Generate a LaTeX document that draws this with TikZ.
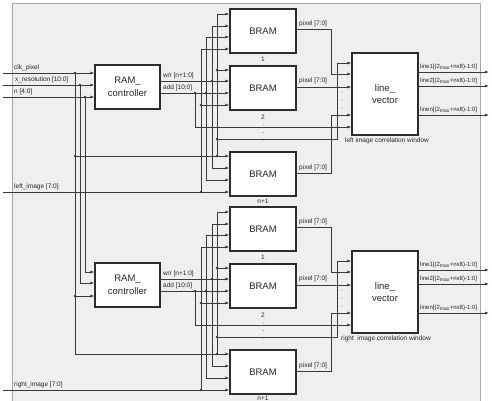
\documentclass[tikz,border=0pt]{standalone}
\usepackage{fontspec}
\setmainfont{Liberation Sans}
\usetikzlibrary{arrows.meta}
\definecolor{bg}{HTML}{EFEFEF}
\definecolor{frame}{HTML}{A8A8A8}
\definecolor{ln}{HTML}{3A3A3A}
\definecolor{bx}{HTML}{2C2C2C}
\tikzset{
  wire/.style={draw=ln, line width=0.85pt},
  arr/.style={wire, -{Latex[length=4pt,width=3pt]}},
  arrb/.style={wire, {Latex[length=4pt,width=3pt]}-{Latex[length=4pt,width=3pt]}},
  blk/.style={draw=bx, line width=1.2pt, fill=white, rectangle, inner sep=0pt,
              align=center, text=black!85, font=\fontsize{9.5}{12.5}\selectfont},
  bram/.style={blk, minimum width=66pt, minimum height=44pt, font=\fontsize{9.5}{12}\selectfont},
  lbl/.style={font=\fontsize{6.5}{7}\selectfont, text=black!85, inner sep=0pt},
  olbl/.style={font=\fontsize{6}{7}\selectfont, text=black!85, inner sep=0pt, anchor=west},
  jdot/.style={circle, fill=ln, inner sep=0pt, minimum size=2.8pt},
  tdot/.style={circle, fill=black!60, inner sep=0pt, minimum size=1pt}
}
\begin{document}
\begin{tikzpicture}[x=1pt,y=-1pt]
\useasboundingbox (0,0) rectangle (492,401);
\fill[bg] (12,3) rectangle (480,401);
\draw[frame, line width=0.8pt] (12,401) -- (12,3) -- (480,3) -- (480,401);

\foreach \s/\o/\ny in {a/0/201,b/198/398.2}{
  % blocks
  \node[blk, minimum width=65pt, minimum height=44pt] (ctrl\s) at (127.5,87+\o) {RAM\_\\controller};
  \node[bram] (b1\s) at (263,31+\o) {BRAM};
  \node[bram] (b2\s) at (263,88+\o) {BRAM};
  \node[bram] (bn\s) at (263,174+\o) {BRAM};
  \node[blk, minimum width=66pt, minimum height=82pt, font=\fontsize{9.5}{11.5}\selectfont] (lv\s) at (385,94+\o) {line\_\\vector};
  \node[lbl] (l1\s) at (263,59+\o) {1};
  \node[lbl] (l2\s) at (263,117+\o) {2};
  \node[lbl] (ln\s) at (263,\ny) {n+1};
  \node[tdot] (d1\s) at (263,125+\o) {};
  \node[tdot] (d2\s) at (263,132.5+\o) {};
  \node[tdot] (d3\s) at (263,140+\o) {};
  \node[tdot] (e1\s) at (342,92+\o) {};
  \node[tdot] (e2\s) at (342,100+\o) {};
  \node[tdot] (e3\s) at (342,108+\o) {};

  % controller outputs
  \node[jdot] (wr\s) at (212,81+\o) {};
  \node[jdot] (ad\s) at (206,93+\o) {};
  \node[jdot] (ax\s) at (195,93+\o) {};
  \draw[arr] (ctrl\s.east |- wr\s) -- (b2\s.west |- wr\s);
  \draw[arr] (ctrl\s.east |- ad\s) -- (b2\s.west |- ad\s);
  \node[lbl, anchor=west] (wrl\s) at (163,76+\o) {w/r [n+1:0]};
  \node[lbl, anchor=west] (adl\s) at (163,88+\o) {add [10:0]};

  % clock bus
  \coordinate (ct\s) at (217,14+\o);
  \node[jdot] (ck2\s) at (217,70+\o) {};
  \node[jdot] (ck3\s) at (217,139+\o) {};
  \node[jdot] (ck4\s) at (217,156+\o) {};
  \coordinate (ckv\s) at (337,63+\o);
  \draw[arr] (ck4\s.center) |- (b1\s.west |- ct\s);
  \draw[arr] (ck2\s.center) -- (b2\s.west |- ck2\s);
  \draw[arr] (ck3\s.center) -| (ckv\s) -- (lv\s.west |- ckv\s);

  % w/r bus
  \coordinate (wt\s) at (212,26+\o);
  \coordinate (wb\s) at (212,168+\o);
  \draw[arrb] (b1\s.west |- wt\s) -| (wb\s) -- (bn\s.west |- wb\s);

  % add bus
  \coordinate (at\s) at (206,37+\o);
  \coordinate (ab\s) at (206,180+\o);
  \draw[arrb] (b1\s.west |- at\s) -| (ab\s) -- (bn\s.west |- ab\s);
  \coordinate (ay\s) at (195,127+\o);
  \draw[arr] (ax\s.center) -- (ay\s) -- (lv\s.west |- ay\s);

  % data bus
  \coordinate (dt\s) at (201,49+\o);
  \node[jdot] (dm\s) at (201,105+\o) {};
  \node[jdot] (db\s) at (201,192+\o) {};
  \draw[arr] (db\s.center) |- (b1\s.west |- dt\s);
  \draw[arr] (dm\s.center) -- (b2\s.west |- dm\s);

  % pixel outputs
  \coordinate (p1\s) at (331,29+\o);
  \coordinate (q1\s) at (331,74+\o);
  \draw[arr] (b1\s.east |- p1\s) -- (p1\s) -- (q1\s) -- (lv\s.west |- q1\s);
  \coordinate (p2\s) at (331,87+\o);
  \draw[arr] (b2\s.east |- p2\s) -- (lv\s.west |- p2\s);
  \coordinate (pn\s) at (331,173+\o);
  \coordinate (qn\s) at (331,115+\o);
  \draw[arr] (bn\s.east |- pn\s) -- (pn\s) -- (qn\s) -- (lv\s.west |- qn\s);
  \node[lbl, anchor=west] (px1\s) at (299,24+\o) {pixel [7:0]};
  \node[lbl, anchor=west] (px2\s) at (299,81+\o) {pixel [7:0]};
  \node[lbl, anchor=west] (pxn\s) at (299,168+\o) {pixel [7:0]};

  % line_vector outputs
  \coordinate (o1\s) at (489,72+\o);
  \coordinate (o2\s) at (489,86+\o);
  \coordinate (on\s) at (489,115+\o);
  \draw[arr] (lv\s.east |- o1\s) -- (o1\s);
  \draw[arr] (lv\s.east |- o2\s) -- (o2\s);
  \draw[arr] (lv\s.east |- on\s) -- (on\s);
  \node[olbl] (ol1\s) at (420,66.5+\o) {line1[(2\textsubscript{max}+nx8)-1:0]};
  \node[olbl] (ol2\s) at (420,80.5+\o) {line2[(2\textsubscript{max}+nx8)-1:0]};
  \node[olbl] (oln\s) at (420,109.5+\o) {linen[(2\textsubscript{max}+nx8)-1:0]};
}
\node[lbl] (capa) at (387,141) {left image correlation window};
\node[lbl] (capb) at (386,339) {right\ \ image correlation window};

% left inputs
\coordinate (ic) at (3,73);
\coordinate (ix) at (3,85);
\coordinate (in) at (3,97);
\node[jdot] (jc) at (75,73) {};
\node[jdot] (jx) at (80,85) {};
\node[jdot] (jn) at (85,97) {};
\draw[arr] (ic) -- (ctrla.west |- ic);
\draw[arr] (ix) -- (ctrla.west |- ix);
\draw[arr] (in) -- (ctrla.west |- in);
\node[lbl, anchor=west] (tc) at (14,68) {clk\_pixel};
\node[lbl, anchor=west] (tx) at (15,80) {x\_resolution [10:0]};
\node[lbl, anchor=west] (tn) at (14,92) {n [4:0]};

\node[jdot] (jc2) at (75,156) {};
\node[jdot] (jc3) at (75,296) {};
\coordinate (jc4) at (75,354);
\draw[wire] (jc.center) -- (jc4);
\draw[arr] (jc2.center) -- (bna.west |- jc2);
\draw[arr] (jc3.center) -- (ctrlb.west |- jc3);
\draw[arr] (jc4) -- (bnb.west |- jc4);
\coordinate (cx) at (80,283);
\draw[arr] (jx.center) -- (cx) -- (ctrlb.west |- cx);
\coordinate (cn) at (85,272);
\draw[arr] (jn.center) -- (cn) -- (ctrlb.west |- cn);

\coordinate (il) at (3,192);
\coordinate (ir) at (3,390);
\draw[arr] (il) -- (bna.west |- il);
\draw[arr] (ir) -- (bnb.west |- ir);
\node[lbl, anchor=west] (tl) at (14,187) {left\_image [7:0]};
\node[lbl, anchor=west] (tr) at (14,385) {right\_image [7:0]};
\end{tikzpicture}
\end{document}
